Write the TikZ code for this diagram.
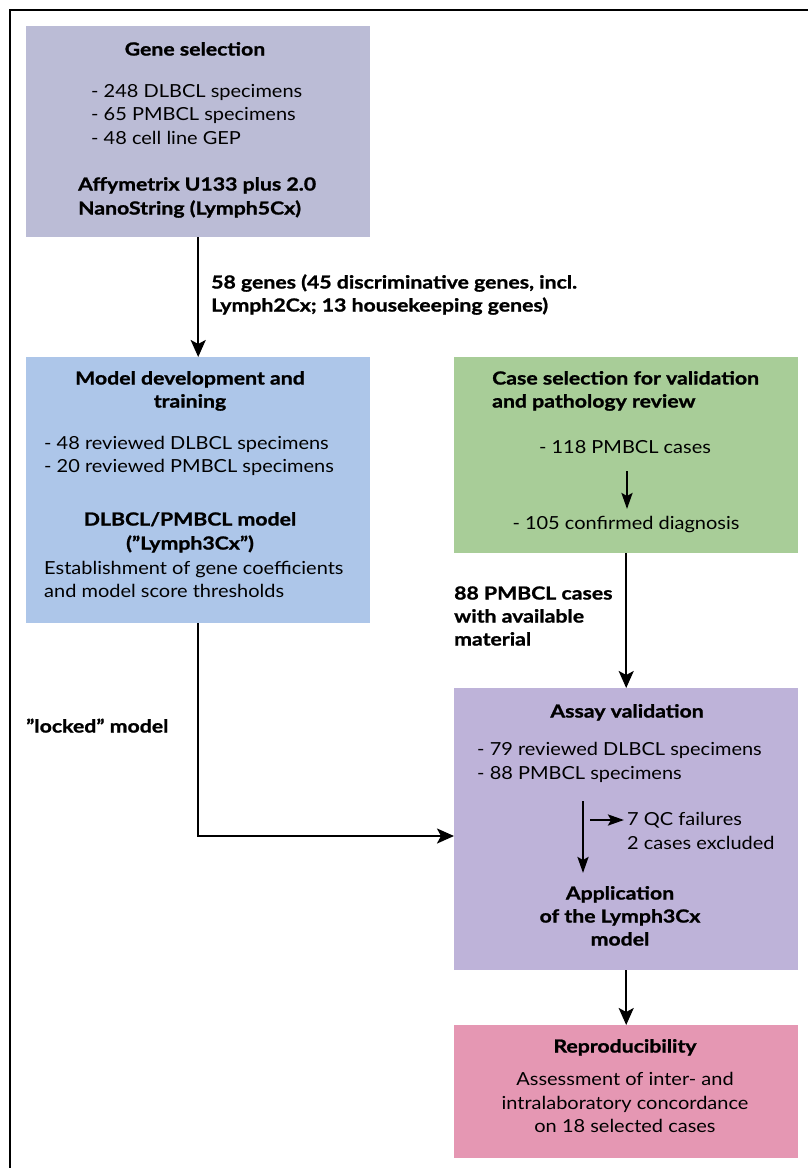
\documentclass[tikz,border=0pt]{standalone}
\usepackage{fontspec}
\setmainfont{Lato}
\newfontfamily\regf{Lato}[FakeStretch=1.11]
\newfontfamily\boldf{Lato}[FakeStretch=1.18, BoldFeatures={FakeBold=1.2}]
\usetikzlibrary{arrows.meta}
\definecolor{cgene}{RGB}{187,188,214}
\definecolor{cmodel}{RGB}{173,198,233}
\definecolor{ccase}{RGB}{168,205,152}
\definecolor{cassay}{RGB}{190,179,217}
\definecolor{crepro}{RGB}{229,151,179}
\tikzset{
  box/.style={rectangle, draw=none, anchor=north west, inner sep=0pt},
  txt/.style={inner sep=0pt, font=\fontsize{18bp}{23.5bp}\regf},
  btxt/.style={inner sep=0pt, font=\fontsize{18bp}{23.5bp}\boldf\bfseries},
  arr/.style={line width=2.4bp, -{Stealth[length=17bp,width=15bp,inset=4bp]}},
  iarr/.style={line width=2.4bp, -{Stealth[length=16bp,width=11bp,inset=3bp]}},
  frame/.style={line width=2.8bp}
}
\begin{document}
\begin{tikzpicture}[x=1bp,y=-1bp]
\useasboundingbox (0,0) rectangle (808,1168);
\draw[frame] (10,1168) -- (10,10) -- (808,10);

% boxes
\node[box, fill=cgene, minimum width=344bp, minimum height=211bp] (gene) at (26,26) {};
\node[box, fill=cmodel, minimum width=344bp, minimum height=266bp] (model) at (26,357) {};
\node[box, fill=ccase, minimum width=344bp, minimum height=196bp] (case) at (454,357) {};
\node[box, fill=cassay, minimum width=344bp, minimum height=282bp] (assay) at (454,688) {};
\node[box, fill=crepro, minimum width=344bp, minimum height=133bp] (repro) at (454,1025) {};

% gene selection text
\node[btxt, anchor=mid] (gt) at (195,53) {Gene selection};
\node[txt, anchor=mid west] (g1) at (91,95) {- 248 DLBCL specimens};
\node[txt, anchor=mid west] (g2) at (91,118) {- 65 PMBCL specimens};
\node[txt, anchor=mid west] (g3) at (91,142) {- 48 cell line GEP};
\node[btxt, anchor=mid west] (g4) at (78,188) {Affymetrix U133 plus 2.0};
\node[btxt, anchor=mid west] (g5) at (78,212) {NanoString (Lymph5Cx)};

% label 58 genes
\node[btxt, anchor=mid west] (l1) at (211,286) {58 genes (45 discriminative genes, incl.};
\node[btxt, anchor=mid west] (l2) at (211,309) {Lymph2Cx; 13 housekeeping genes)};

% model text
\node[btxt, anchor=mid] (mt1) at (190,382) {Model development and};
\node[btxt, anchor=mid] (mt2) at (190,405) {training};
\node[txt, anchor=mid west] (m1) at (44,447) {- 48 reviewed DLBCL specimens};
\node[txt, anchor=mid west] (m2) at (44,470) {- 20 reviewed PMBCL specimens};
\node[btxt, anchor=mid] (mt3) at (190,523) {DLBCL/PMBCL model};
\node[btxt, anchor=mid] (mt4) at (190,547) {(”Lymph3Cx”)};
\node[txt, anchor=mid west] (m3) at (44,572) {Establishment of gene coefficients};
\node[txt, anchor=mid west] (m4) at (44,595) {and model score thresholds};

% locked label
\node[btxt, anchor=mid west] (lk) at (26,730) {”locked” model};

% case selection text
\node[btxt, anchor=mid west] (ct1) at (492,382) {Case selection for validation};
\node[btxt, anchor=mid west] (ct2) at (492,405) {and pathology review};
\node[txt, anchor=mid] (c1) at (625,451) {- 118 PMBCL cases};
\node[txt, anchor=mid] (c2) at (626,527) {- 105 confirmed diagnosis};

% 88 label
\node[btxt, anchor=mid west] (e1) at (454,597) {88 PMBCL cases};
\node[btxt, anchor=mid west] (e2) at (454,620) {with available};
\node[btxt, anchor=mid west] (e3) at (454,643) {material};

% assay text
\node[btxt, anchor=mid] (at) at (627,715) {Assay validation};
\node[txt, anchor=mid west] (a1) at (477,753) {- 79 reviewed DLBCL specimens};
\node[txt, anchor=mid west] (a2) at (477,777) {- 88 PMBCL specimens};
\node[txt, anchor=mid west] (q1) at (627,823) {7 QC failures};
\node[txt, anchor=mid west] (q2) at (627,847) {2 cases excluded};
\node[btxt, anchor=mid] (ap1) at (620,897) {Application};
\node[btxt, anchor=mid] (ap2) at (620,920) {of the Lymph3Cx};
\node[btxt, anchor=mid] (ap3) at (620,943) {model};

% repro text
\node[btxt, anchor=mid] (rt) at (625,1050) {Reproducibility};
\node[txt, anchor=mid] (r1) at (625,1083) {Assessment of inter- and};
\node[txt, anchor=mid] (r2) at (625,1107) {intralaboratory concordance};
\node[txt, anchor=mid] (r3) at (625,1130) {on 18 selected cases};

% coordinates
\coordinate (lockin) at (454,836);
\coordinate (cs) at (627,471);
\coordinate (ce) at (627,509);
\coordinate (vs) at (583,801);
\coordinate (ve) at (583,873);
\coordinate (hs) at (590,820);
\coordinate (he) at (624,820);

% connectors
\draw[arr] (gene.south) -- (model.north);
\draw[arr] (case.south) -- (assay.north);
\draw[arr] (model.south) |- (lockin);
\draw[arr] (assay.south) -- (repro.north);
\draw[iarr] (cs) -- (ce);
\draw[iarr] (vs) -- (ve);
\draw[iarr] (hs) -- (he);
\end{tikzpicture}
\end{document}
